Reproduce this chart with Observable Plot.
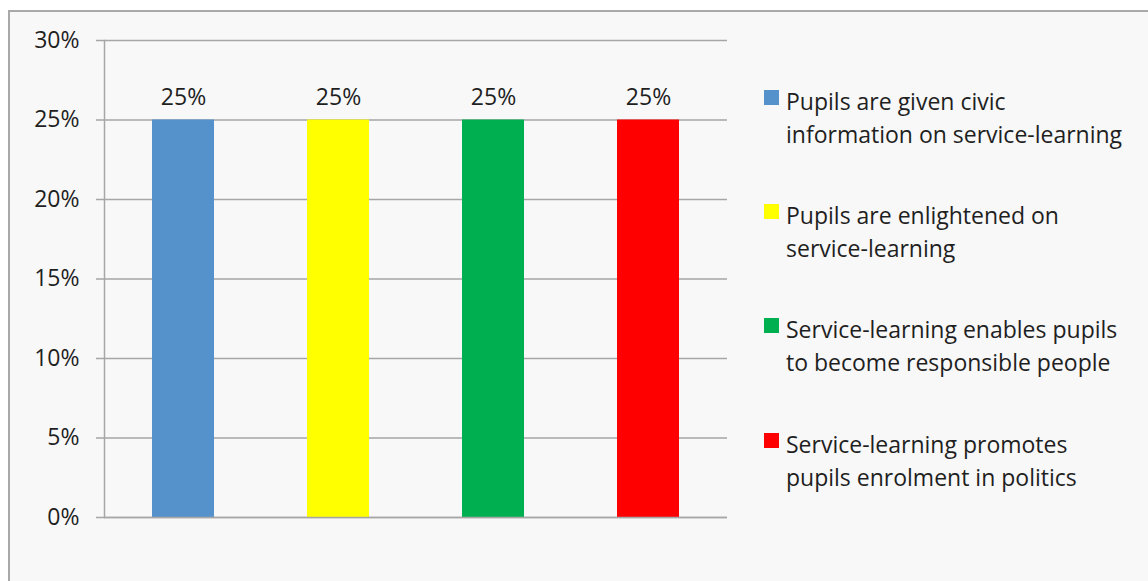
<!DOCTYPE html>
<html>
<head>
<meta charset="utf-8">
<script src="https://cdn.jsdelivr.net/npm/d3@7"></script>
<script src="https://cdn.jsdelivr.net/npm/@observablehq/plot@0.6"></script>
<style>
  html, body { margin: 0; padding: 0; background: #ffffff; width: 1148px; height: 581px; overflow: hidden; }
  #frame { position: absolute; left: 8px; top: 10px; right: -10px; bottom: -10px;
           border-top: 2px solid #a9a9a9; border-left: 2px solid #a9a9a9; background: #f8f8f8; }
  #chart { position: absolute; left: 0; top: 0; }
  #legend { position: absolute; left: 764px; top: 0; font-family: "Open Sans", sans-serif; font-size: 23px; color: #1f1f1f; }
  .item { position: absolute; left: 0; width: 384px; }
  .sw { position: absolute; left: 0; top: 0; width: 15px; height: 15px; }
  .lab { position: absolute; left: 22px; line-height: 33px; top: -5px; white-space: nowrap; }
</style>
</head>
<body>
<div id="frame"></div>
<div id="chart"></div>
<div id="legend"></div>
<script>
const categories = [
  "Pupils are given civic information on service-learning",
  "Pupils are enlightened on service-learning",
  "Service-learning enables pupils to become responsible people",
  "Service-learning promotes pupils enrolment in politics"
];
const legendLines = [
  ["Pupils are given civic", "information on service-learning"],
  ["Pupils are enlightened on", "service-learning"],
  ["Service-learning enables pupils", "to become responsible people"],
  ["Service-learning promotes", "pupils enrolment in politics"]
];
const values = [0.25, 0.25, 0.25, 0.25];
const colors = ["#5592cc", "#ffff00", "#00b050", "#ff0000"];
const yTicks = [0, 0.05, 0.10, 0.15, 0.20, 0.25, 0.30];

const data = categories.map((c, i) => ({category: c, value: values[i], color: colors[i]}));

const font = "'Open Sans', sans-serif";
const pct = d3.format(".0%");
const plot = Plot.plot({
  width: 1148,
  height: 581,
  marginLeft: 104,
  marginRight: 421,
  marginTop: 40,
  marginBottom: 64,
  style: {background: "transparent", fontFamily: font, fontSize: "23px", color: "#1f1f1f"},
  x: {domain: categories, paddingInner: 0.6, paddingOuter: 0.3, axis: null},
  y: {domain: [0, 0.3], ticks: yTicks, tickFormat: pct, label: null},
  marks: [
    Plot.ruleY(yTicks, {stroke: "#a6a6a6", strokeWidth: 1.5, strokeOpacity: 1}),
    Plot.frame({anchor: "left", stroke: "#a6a6a6", strokeWidth: 1.5, strokeOpacity: 1}),
    Plot.axisY({ticks: yTicks, tickFormat: pct, tickSize: 8, tickPadding: 17, label: null,
                stroke: "#a6a6a6", strokeWidth: 1.5, strokeOpacity: 1, fontSize: 23, fill: "#1f1f1f"}),
    Plot.barY(data, {x: "category", y: "value", fill: "color"}),
    Plot.ruleY([0], {stroke: "#a6a6a6", strokeWidth: 1.5}),
    Plot.text(data, {x: "category", y: "value", text: d => pct(d.value),
                     dy: -22, fontSize: 23, fill: "#1f1f1f"})
  ]
});
document.getElementById("chart").appendChild(plot);

const legend = document.getElementById("legend");
const tops = [90, 204, 318, 433];
legendLines.forEach((lines, i) => {
  const it = document.createElement("div");
  it.className = "item";
  it.style.top = tops[i] + "px";
  it.innerHTML = `<div class="sw" style="background:${colors[i]}"></div><div class="lab">${lines.join("<br>")}</div>`;
  legend.appendChild(it);
});
</script>
</body>
</html>
